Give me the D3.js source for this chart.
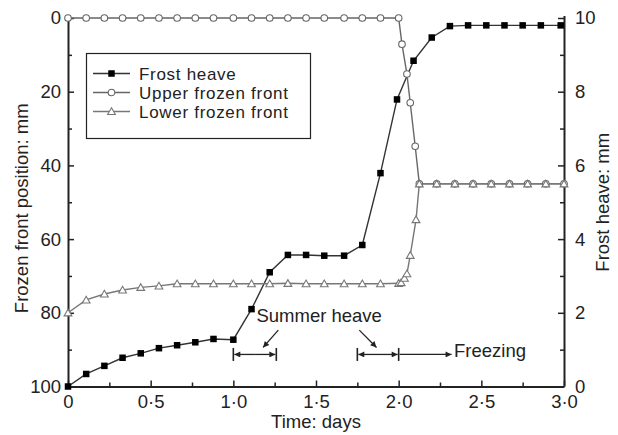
<!DOCTYPE html>
<html>
<head>
<meta charset="utf-8">
<script src="https://cdn.jsdelivr.net/npm/d3@7/dist/d3.min.js"></script>
<style>
  html, body { margin: 0; padding: 0; background: #fff; }
  svg { display: block; font-family: "Liberation Sans", Arial, Helvetica, sans-serif; }
</style>
</head>
<body>
<svg id="chart" width="618" height="435"></svg>
<script>
// Frost heave (right axis, mm) against time (days)
const heaveDays = [0, 0.11, 0.22, 0.33, 0.44, 0.55, 0.66, 0.77, 0.88, 1.0,
  1.11, 1.22, 1.33, 1.44, 1.55, 1.67, 1.78, 1.89, 1.99, 2.09,
  2.2, 2.31, 2.42, 2.53, 2.64, 2.75, 2.86, 2.98];
const heaveMm = [0, 0.34, 0.56, 0.78, 0.90, 1.04, 1.12, 1.20, 1.29, 1.27,
  2.10, 3.10, 3.57, 3.57, 3.55, 3.55, 3.84, 5.79, 7.79, 8.84,
  9.47, 9.78, 9.80, 9.80, 9.80, 9.80, 9.80, 9.80];

// Upper frozen front position (left axis, mm)
const upperDays = [0, 0.11, 0.22, 0.33, 0.44, 0.55, 0.66, 0.77, 0.88, 1.0,
  1.11, 1.22, 1.33, 1.44, 1.55, 1.67, 1.78, 1.89, 2.0,
  2.02, 2.05, 2.07, 2.1, 2.125,
  2.23, 2.34, 2.45, 2.56, 2.67, 2.78, 2.89, 3.0];
const upperMm = [0, 0, 0, 0, 0, 0, 0, 0, 0, 0,
  0, 0, 0, 0, 0, 0, 0, 0, 0,
  7.1, 15.2, 23.0, 34.8, 45.0,
  45.0, 45.0, 45.0, 45.0, 45.0, 45.0, 45.0, 45.0];

// Lower frozen front position (left axis, mm)
const lowerDays = [0, 0.11, 0.22, 0.33, 0.44, 0.55, 0.66, 0.77, 0.88, 1.0,
  1.11, 1.22, 1.33, 1.44, 1.55, 1.67, 1.78, 1.89, 2.0,
  2.015, 2.035, 2.05, 2.07, 2.105, 2.125,
  2.23, 2.34, 2.45, 2.56, 2.67, 2.78, 2.89, 3.0];
const lowerMm = [80.0, 76.5, 74.9, 73.8, 73.1, 72.7, 72.1, 72.1, 72.1, 72.1,
  72.1, 72.1, 72.0, 72.1, 72.1, 72.1, 72.1, 72.1, 72.0,
  71.8, 70.6, 69.4, 64.4, 54.7, 45.0,
  45.0, 45.0, 45.0, 45.0, 45.0, 45.0, 45.0, 45.0];

// Axis ticks and labels
const xTicks = [0, 0.5, 1.0, 1.5, 2.0, 2.5, 3.0];
const xTickLabels = ["0", "0·5", "1·0", "1·5", "2·0", "2·5", "3·0"];
const xMinorTicks = [0.25, 0.75, 1.25, 1.75, 2.25, 2.75];
const leftTicks = [0, 20, 40, 60, 80, 100];
const leftMinorTicks = [10, 30, 50, 70, 90];
const rightTicks = [0, 2, 4, 6, 8, 10];
const rightMinorTicks = [1, 3, 5, 7, 9];

const legendLabels = ["Frost heave", "Upper frozen front", "Lower frozen front"];

// Annotation positions in data units (days, mm on the left axis)
const summerSpans = [[1.0, 1.26], [1.75, 2.0]];
const spanLevel = 91.3;
const freezingArrow = [2.0, 2.32];
const pointerArrows = [
  { from: [1.272, 84.7], to: [1.18, 89.4] },
  { from: [1.762, 84.7], to: [1.866, 89.4] }
];
const summerText = { day: 1.14, mm: 82.6, text: "Summer heave" };
const freezingText = { day: 2.335, mm: 92.0, text: "Freezing" };

const svg = d3.select("#chart");
const ink = "#222";
const fontSize = 18.5;
const legendFont = 17;

const x = d3.scaleLinear().domain([0, 3]).range([68, 564]);
const yL = d3.scaleLinear().domain([0, 100]).range([18, 386.5]);
const yR = d3.scaleLinear().domain([0, 10]).range([386.5, 18]);

const defs = svg.append("defs");
defs.append("marker").attr("id", "arrow")
  .attr("viewBox", "0 0 10 10").attr("refX", 10).attr("refY", 5)
  .attr("markerWidth", 9).attr("markerHeight", 6)
  .attr("markerUnits", "userSpaceOnUse")
  .attr("orient", "auto-start-reverse")
  .append("path").attr("d", "M0,0 L10,5 L0,10 z").attr("fill", ink);

// ----- Axes -----
function styleAxis(g) {
  g.select(".domain").attr("stroke", ink).attr("stroke-width", 2);
  g.selectAll(".tick line").attr("stroke", ink).attr("stroke-width", 1.5);
  g.selectAll(".tick text").attr("fill", ink).attr("font-size", fontSize)
    .attr("font-family", "\"Liberation Sans\", Arial, sans-serif");
}

// bottom
const xAxis = svg.append("g").attr("transform", `translate(0,${yL(100)})`)
  .call(d3.axisBottom(x).tickValues(xTicks).tickSize(-6).tickPadding(8)
    .tickFormat((d, i) => xTickLabels[i]).tickSizeOuter(0));
styleAxis(xAxis);
const xMinor = svg.append("g").attr("transform", `translate(0,${yL(100)})`)
  .call(d3.axisBottom(x).tickValues(xMinorTicks).tickSize(-4).tickFormat(""));
xMinor.select(".domain").remove();
styleAxis(xMinor);

// left
const leftAxis = svg.append("g").attr("transform", `translate(${x(0)},0)`)
  .call(d3.axisLeft(yL).tickValues(leftTicks).tickSize(-6).tickPadding(7).tickSizeOuter(0));
styleAxis(leftAxis);
const leftMinor = svg.append("g").attr("transform", `translate(${x(0)},0)`)
  .call(d3.axisLeft(yL).tickValues(leftMinorTicks).tickSize(-4).tickFormat(""));
leftMinor.select(".domain").remove();
styleAxis(leftMinor);

// right
const rightAxis = svg.append("g").attr("transform", `translate(${x(3)},0)`)
  .call(d3.axisRight(yR).tickValues(rightTicks).tickSize(-6).tickPadding(11).tickSizeOuter(0));
styleAxis(rightAxis);
rightAxis.select(".domain").attr("d", `M0.5,${yR(0)}V${yR(10) - 2}`);
const rightMinor = svg.append("g").attr("transform", `translate(${x(3)},0)`)
  .call(d3.axisRight(yR).tickValues(rightMinorTicks).tickSize(-4).tickFormat(""));
rightMinor.select(".domain").remove();
styleAxis(rightMinor);

// axis titles
svg.append("text").attr("x", (x(0) + x(3)) / 2).attr("y", 428)
  .attr("text-anchor", "middle").attr("font-size", fontSize).attr("fill", ink)
  .text("Time: days");
svg.append("text")
  .attr("transform", `translate(28,${(yL(0) + yL(100)) / 2 + 6}) rotate(-90)`)
  .attr("text-anchor", "middle").attr("font-size", fontSize).attr("fill", ink)
  .text("Frozen front position: mm");
svg.append("text")
  .attr("transform", `translate(609,${(yL(0) + yL(100)) / 2}) rotate(-90)`)
  .attr("text-anchor", "middle").attr("font-size", fontSize).attr("fill", ink)
  .text("Frost heave: mm");

// ----- Series -----
const heave = heaveDays.map((d, i) => [d, heaveMm[i]]);
const upper = upperDays.map((d, i) => [d, upperMm[i]]);
const lower = lowerDays.map((d, i) => [d, lowerMm[i]]);

const lineR = d3.line().x(d => x(d[0])).y(d => yR(d[1]));
const lineL = d3.line().x(d => x(d[0])).y(d => yL(d[1]));

const heaveColor = "#333";
const upperColor = "#666";
const lowerColor = "#777";

svg.append("path").datum(heave).attr("d", lineR)
  .attr("fill", "none").attr("stroke", heaveColor).attr("stroke-width", 1.4);
svg.append("path").datum(upper).attr("d", lineL)
  .attr("fill", "none").attr("stroke", upperColor).attr("stroke-width", 1.4);
svg.append("path").datum(lower).attr("d", lineL)
  .attr("fill", "none").attr("stroke", lowerColor).attr("stroke-width", 1.4);

const sq = 6.5;
function squares(g, data, yScale) {
  g.selectAll("rect.m").data(data).join("rect").attr("class", "m")
    .attr("x", d => x(d[0]) - sq / 2).attr("y", d => yScale(d[1]) - sq / 2)
    .attr("width", sq).attr("height", sq).attr("fill", "#000");
}
function circles(g, data, yScale) {
  g.selectAll("circle.m").data(data).join("circle").attr("class", "m")
    .attr("cx", d => x(d[0])).attr("cy", d => yScale(d[1])).attr("r", 3.3)
    .attr("fill", "#fff").attr("stroke", upperColor).attr("stroke-width", 1.1);
}
const tri = d3.symbol().type(d3.symbolTriangle).size(26);
function triangles(g, data, yScale) {
  g.selectAll("path.m").data(data).join("path").attr("class", "m")
    .attr("transform", d => `translate(${x(d[0])},${yScale(d[1]) + 0.8})`)
    .attr("d", tri).attr("fill", "#fff").attr("stroke", lowerColor).attr("stroke-width", 1.1);
}

squares(svg.append("g"), heave, yR);
circles(svg.append("g"), upper, yL);
triangles(svg.append("g"), lower, yL);

// ----- Legend -----
const legend = svg.append("g");
legend.append("rect").attr("x", 86.5).attr("y", 53.5).attr("width", 224).attr("height", 85)
  .attr("fill", "#fff").attr("stroke", ink).attr("stroke-width", 1.2);
const rows = legend.selectAll("g.row").data(legendLabels).join("g").attr("class", "row")
  .attr("transform", (d, i) => `translate(0,${73.5 + i * 19})`);
const lc = [heaveColor, upperColor, lowerColor];
rows.append("line").attr("x1", 93).attr("x2", 130).attr("y1", 0).attr("y2", 0)
  .attr("stroke", (d, i) => lc[i]).attr("stroke-width", 1.4);
rows.append("text").attr("x", 139).attr("y", 6).attr("font-size", legendFont)
  .attr("letter-spacing", 0.7).attr("fill", ink)
  .text(d => d);
rows.filter((d, i) => i === 0).append("rect")
  .attr("x", 111.5 - sq / 2).attr("y", -sq / 2).attr("width", sq).attr("height", sq).attr("fill", "#000");
rows.filter((d, i) => i === 1).append("circle")
  .attr("cx", 111.5).attr("cy", 0).attr("r", 3.3).attr("fill", "#fff")
  .attr("stroke", upperColor).attr("stroke-width", 1.1);
rows.filter((d, i) => i === 2).append("path")
  .attr("transform", "translate(111.5,0.8)").attr("d", tri).attr("fill", "#fff")
  .attr("stroke", lowerColor).attr("stroke-width", 1.1);

// ----- Annotations -----
const ann = svg.append("g").attr("stroke", ink).attr("fill", "none").attr("stroke-width", 1.3);
const barHalf = 6.5;
summerSpans.forEach(([a, b]) => {
  const yy = yL(spanLevel);
  [a, b].forEach(t => ann.append("line")
    .attr("x1", x(t)).attr("x2", x(t)).attr("y1", yy - barHalf).attr("y2", yy + barHalf)
    .attr("stroke-width", 1.6));
  const mid = (x(a) + x(b)) / 2;
  ann.append("line").attr("x1", mid).attr("x2", x(a) + 1).attr("y1", yy).attr("y2", yy)
    .attr("marker-end", "url(#arrow)");
  ann.append("line").attr("x1", mid).attr("x2", x(b) - 1).attr("y1", yy).attr("y2", yy)
    .attr("marker-end", "url(#arrow)");
});
ann.append("line").attr("x1", x(freezingArrow[0]) + 1).attr("x2", x(freezingArrow[1]))
  .attr("y1", yL(spanLevel)).attr("y2", yL(spanLevel)).attr("marker-end", "url(#arrow)");
pointerArrows.forEach(p => ann.append("line")
  .attr("x1", x(p.from[0])).attr("y1", yL(p.from[1]))
  .attr("x2", x(p.to[0])).attr("y2", yL(p.to[1]))
  .attr("marker-end", "url(#arrow)"));

[summerText, freezingText].forEach(t => svg.append("text")
  .attr("x", x(t.day)).attr("y", yL(t.mm)).attr("font-size", fontSize).attr("fill", ink)
  .text(t.text));
</script>
</body>
</html>
